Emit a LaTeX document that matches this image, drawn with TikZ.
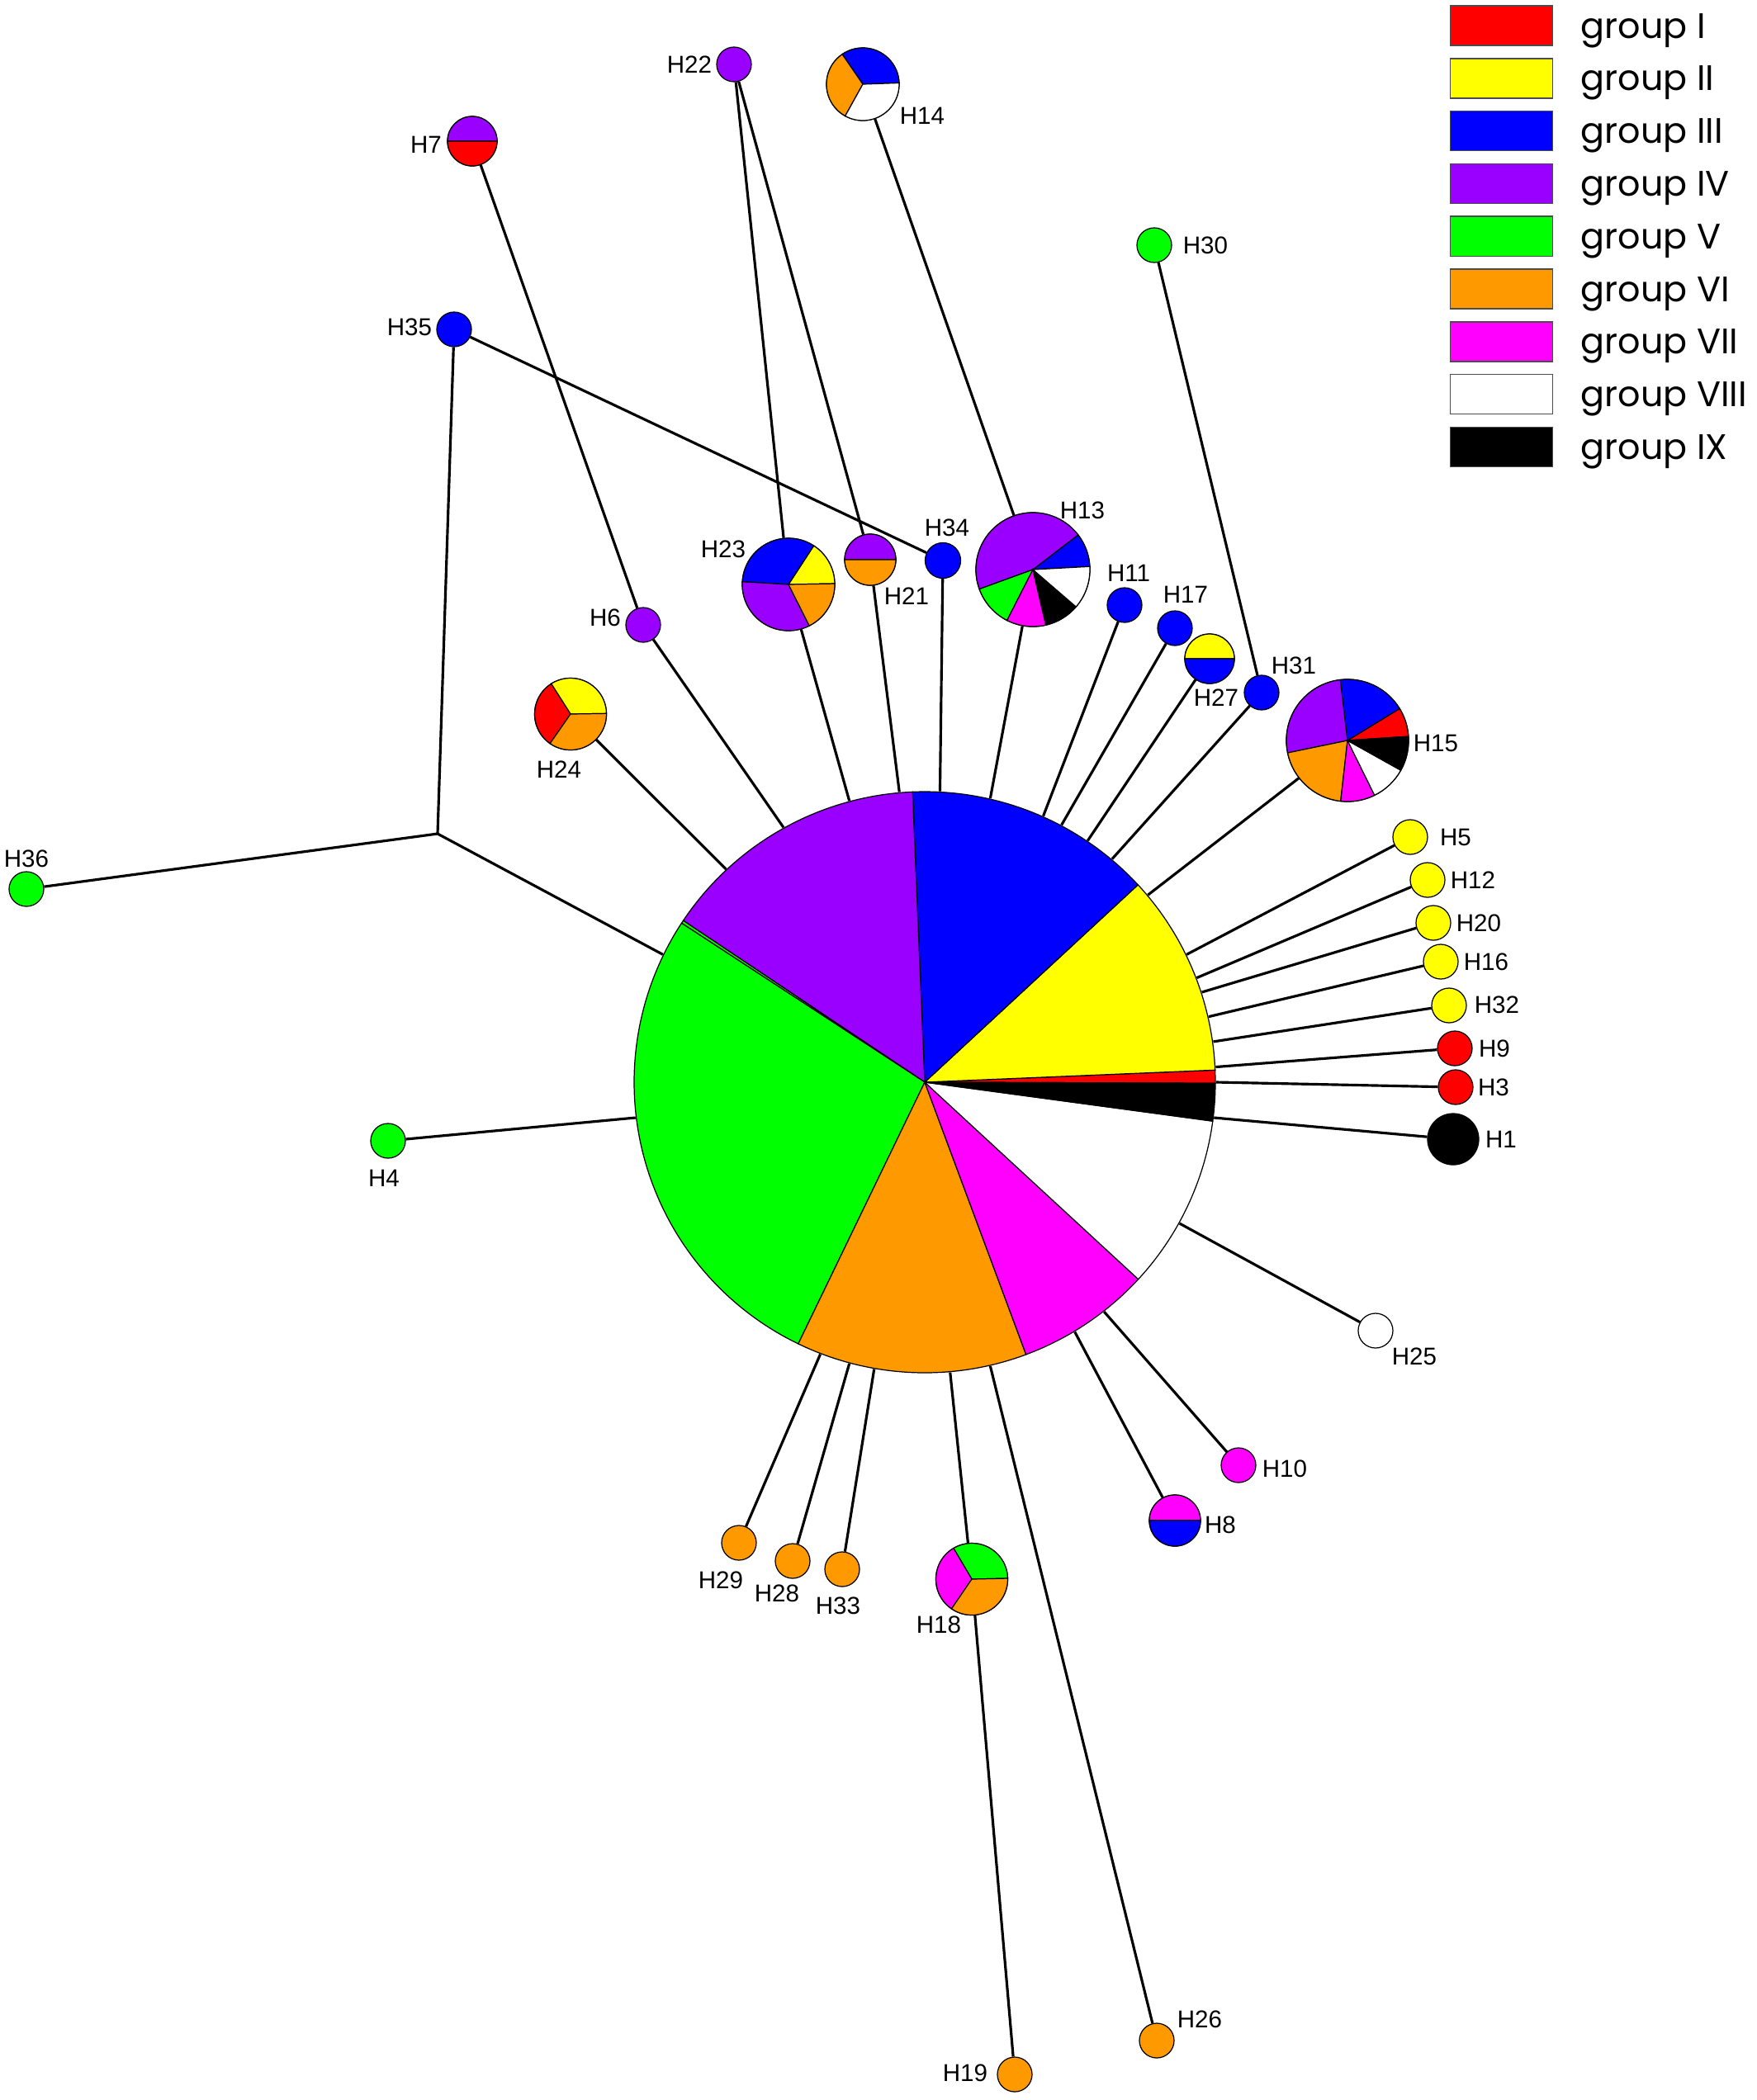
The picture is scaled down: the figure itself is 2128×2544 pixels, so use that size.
\documentclass[tikz,border=0pt]{standalone}
\usepackage{fontspec}
\setmainfont{Liberation Sans}
\newfontfamily\legfont{Poppins}
\definecolor{cI}{RGB}{255,0,0}
\definecolor{cII}{RGB}{255,255,0}
\definecolor{cIII}{RGB}{0,0,255}
\definecolor{cIV}{RGB}{153,0,255}
\definecolor{cV}{RGB}{0,255,0}
\definecolor{cVI}{RGB}{255,153,0}
\definecolor{cVII}{RGB}{255,0,255}
\definecolor{cVIII}{RGB}{255,255,255}
\definecolor{cIX}{RGB}{0,0,0}
\newcommand{\pslice}[5]{\filldraw[fill=#5,draw=black,line width=0.35pt] (#1.center) -- ++(#3:#2) arc[start angle=#3,end angle=#4,radius=#2] -- cycle;}
\tikzset{
  hap/.style={circle,inner sep=0pt,minimum size=#1,draw=black,line width=0.35pt},
  conn/.style={draw=black,line width=0.9pt},
  lab/.style={font=\fontsize{8.4pt}{10pt}\selectfont,inner sep=0pt},
  legbox/.style={draw=black!70,line width=0.4pt}
}
\begin{document}
\begin{tikzpicture}[x=0.01cm,y=0.01cm]
\useasboundingbox (0,0) rectangle (2128,-2544);
\fill[white] (0,0) rectangle (2128,-2544);

% main pie
\node[circle,inner sep=0pt,minimum size=7.04cm] (main) at (1120,-1311) {};

% haplotype nodes
\node[hap=0.60cm] (H7) at (572,-171) {};
\node[hap=0.42cm,fill=cIV] (H22) at (889,-78) {};
\node[hap=0.88cm] (H14) at (1045,-102) {};
\node[hap=0.42cm,fill=cV] (H30) at (1398,-297) {};
\node[hap=0.42cm,fill=cIII] (H35) at (550,-399) {};
\node[hap=0.42cm,fill=cV] (H36) at (32,-1077) {};
\node[hap=1.12cm] (H23) at (955,-708) {};
\node[hap=0.62cm] (H21) at (1054,-678) {};
\node[hap=0.43cm,fill=cIII] (H34) at (1142,-679) {};
\node[hap=1.38cm] (H13) at (1251,-690) {};
\node[hap=0.42cm,fill=cIII] (H11) at (1362,-733) {};
\node[hap=0.42cm,fill=cIII] (H17) at (1423,-761) {};
\node[hap=0.60cm] (H27) at (1465,-798) {};
\node[hap=0.42cm,fill=cIII] (H31) at (1528,-839) {};
\node[hap=1.48cm] (H15) at (1632,-897) {};
\node[hap=0.42cm,fill=cIV] (H6) at (779,-757) {};
\node[hap=0.87cm] (H24) at (691,-865) {};
\node[hap=0.42cm,fill=cII] (H5) at (1708,-1014) {};
\node[hap=0.42cm,fill=cII] (H12) at (1729,-1066) {};
\node[hap=0.42cm,fill=cII] (H20) at (1736,-1118) {};
\node[hap=0.42cm,fill=cII] (H16) at (1745,-1165) {};
\node[hap=0.42cm,fill=cII] (H32) at (1755,-1218) {};
\node[hap=0.42cm,fill=cI] (H9) at (1762,-1270) {};
\node[hap=0.42cm,fill=cI] (H3) at (1763,-1317) {};
\node[hap=0.62cm,fill=cIX] (H1) at (1760,-1380) {};
\node[hap=0.42cm,fill=cV] (H4) at (470,-1382) {};
\node[hap=0.42cm,fill=cVIII] (H25) at (1666,-1612) {};
\node[hap=0.42cm,fill=cVII] (H10) at (1500,-1775) {};
\node[hap=0.62cm] (H8) at (1423,-1842) {};
\node[hap=0.42cm,fill=cVI] (H29) at (895,-1869) {};
\node[hap=0.42cm,fill=cVI] (H28) at (960,-1891) {};
\node[hap=0.42cm,fill=cVI] (H33) at (1020,-1901) {};
\node[hap=0.87cm] (H18) at (1177,-1913) {};
\node[hap=0.42cm,fill=cVI] (H19) at (1229,-2513) {};
\node[hap=0.42cm,fill=cVI] (H26) at (1401,-2472) {};
\coordinate (J) at (530,-1010);

% connectors
\draw[conn] (H7) -- (H6);
\draw[conn] (H6) -- (main.119.3);
\draw[conn] (H22) -- (H23);
\draw[conn] (H22) -- (H21);
\draw[conn] (H23) -- (main.105.2);
\draw[conn] (H21) -- (main.95.8);
\draw[conn] (H34) -- (main.87.8);
\draw[conn] (H35) -- (H34);
\draw[conn] (J) -- (H35);
\draw[conn] (J) -- (H36);
\draw[conn] (J) -- (main.154);
\draw[conn] (H14) -- (H13);
\draw[conn] (H13) -- (main.77.5);
\draw[conn] (H11) -- (main.66.8);
\draw[conn] (H17) -- (main.62);
\draw[conn] (H27) -- (main.56.8);
\draw[conn] (H30) -- (H31);
\draw[conn] (H31) -- (main.50.8);
\draw[conn] (H15) -- (main.40.6);
\draw[conn] (H24) -- (main.133.2);
\draw[conn] (H5) -- (main.26.3);
\draw[conn] (H12) -- (main.21.8);
\draw[conn] (H20) -- (main.18);
\draw[conn] (H16) -- (main.13.4);
\draw[conn] (H32) -- (main.8.6);
\draw[conn] (H9) -- (main.3.3);
\draw[conn] (H3) -- (main.0.1);
\draw[conn] (H1) -- (main.353.8);
\draw[conn] (H4) -- (main.187);
\draw[conn] (H25) -- (main.331.2);
\draw[conn] (H10) -- (main.308.8);
\draw[conn] (H8) -- (main.301.3);
\draw[conn] (H29) -- (main.249.6);
\draw[conn] (H28) -- (main.255.2);
\draw[conn] (H33) -- (main.260.7);
\draw[conn] (H18) -- (main.275.7);
\draw[conn] (H18) -- (H19);
\draw[conn] (H26) -- (main.283.3);

% main pie slices
\pslice{main}{352}{-0.2}{2.4}{cI}
\pslice{main}{352}{2.4}{42.8}{cII}
\pslice{main}{352}{42.8}{92.4}{cIII}
\pslice{main}{352}{92.4}{146.2}{cIV}
\pslice{main}{352}{146.2}{146.8}{cV}
\pslice{main}{352}{146.8}{244.2}{cV}
\pslice{main}{352}{244.2}{290.4}{cVI}
\pslice{main}{352}{290.4}{317.3}{cVII}
\pslice{main}{352}{317.3}{352.3}{cVIII}
\pslice{main}{352}{352.3}{359.8}{cIX}

% small pies
\pslice{H7}{30}{0}{180}{cIV}
\pslice{H7}{30}{180}{360}{cI}
\pslice{H14}{44}{2}{124.5}{cIII}
\pslice{H14}{44}{124.5}{241}{cVI}
\pslice{H14}{44}{241}{362}{cVIII}
\pslice{H23}{56}{1}{56.9}{cII}
\pslice{H23}{56}{56.9}{176.6}{cIII}
\pslice{H23}{56}{176.6}{296.7}{cIV}
\pslice{H23}{56}{296.7}{361}{cVI}
\pslice{H21}{31}{0}{180}{cIV}
\pslice{H21}{31}{180}{360}{cVI}
\pslice{H13}{69}{3.1}{37.5}{cIII}
\pslice{H13}{69}{37.5}{200}{cIV}
\pslice{H13}{69}{200}{243}{cV}
\pslice{H13}{69}{243}{283.2}{cVII}
\pslice{H13}{69}{283.2}{319.2}{cIX}
\pslice{H13}{69}{319.2}{363.1}{cVIII}
\pslice{H27}{30}{0}{180}{cII}
\pslice{H27}{30}{180}{360}{cIII}
\pslice{H15}{74}{3.8}{31.4}{cI}
\pslice{H15}{74}{31.4}{96.8}{cIII}
\pslice{H15}{74}{96.8}{191.7}{cIV}
\pslice{H15}{74}{191.7}{263.6}{cVI}
\pslice{H15}{74}{263.6}{296.3}{cVII}
\pslice{H15}{74}{296.3}{330.8}{cVIII}
\pslice{H15}{74}{330.8}{363.8}{cIX}
\pslice{H24}{43.5}{0.9}{122.5}{cII}
\pslice{H24}{43.5}{122.5}{235.2}{cI}
\pslice{H24}{43.5}{235.2}{360.9}{cVI}
\pslice{H8}{31}{0}{180}{cVII}
\pslice{H8}{31}{180}{360}{cIII}
\pslice{H18}{43.5}{1.3}{120.6}{cV}
\pslice{H18}{43.5}{120.6}{235.7}{cVII}
\pslice{H18}{43.5}{235.7}{361.3}{cVI}

% labels
\node[lab] (L7) at (516,-175) {H7};
\node[lab] (L22) at (835,-78) {H22};
\node[lab] (L14) at (1117,-140) {H14};
\node[lab] (L30) at (1460,-297) {H30};
\node[lab] (L35) at (496,-396) {H35};
\node[lab] (L36) at (32,-1040) {H36};
\node[lab] (L23) at (876,-665) {H23};
\node[lab] (L21) at (1098,-722) {H21};
\node[lab] (L34) at (1147,-639) {H34};
\node[lab] (L13) at (1311,-618) {H13};
\node[lab] (L11) at (1367,-694) {H11};
\node[lab] (L17) at (1436,-720) {H17};
\node[lab] (L27) at (1473,-845) {H27};
\node[lab] (L31) at (1567,-806) {H31};
\node[lab] (L15) at (1739,-900) {H15};
\node[lab] (L6) at (733,-748) {H6};
\node[lab] (L24) at (677,-932) {H24};
\node[lab] (L5) at (1763,-1014) {H5};
\node[lab] (L12) at (1784,-1066) {H12};
\node[lab] (L20) at (1791,-1118) {H20};
\node[lab] (L16) at (1800,-1165) {H16};
\node[lab] (L32) at (1813,-1217) {H32};
\node[lab] (L9) at (1810,-1270) {H9};
\node[lab] (L3) at (1809,-1317) {H3};
\node[lab] (L1) at (1818,-1380) {H1};
\node[lab] (L4) at (465,-1427) {H4};
\node[lab] (L25) at (1713,-1643) {H25};
\node[lab] (L10) at (1556,-1779) {H10};
\node[lab] (L8) at (1478,-1847) {H8};
\node[lab] (L29) at (873,-1914) {H29};
\node[lab] (L28) at (941,-1930) {H28};
\node[lab] (L33) at (1015,-1945) {H33};
\node[lab] (L18) at (1137,-1968) {H18};
\node[lab] (L19) at (1169,-2511) {H19};
\node[lab] (L26) at (1453,-2446) {H26};

% legend
\foreach \c/\t [count=\i from 0] in {cI/I,cII/II,cIII/III,cIV/IV,cV/V,cVI/VI,cVII/VII,cVIII/VIII,cIX/IX}{
  \pgfmathsetmacro{\cy}{-31-63.8*\i}
  \node[legbox,fill=\c,minimum width=1.24cm,minimum height=0.48cm,inner sep=0pt,anchor=west] (B\i) at (1756,\cy) {};
  \node[anchor=base west,inner sep=0pt,font=\legfont\fontsize{12.2pt}{14pt}\selectfont] (T\i) at (1914,\cy-15) {group \t};
}
\end{tikzpicture}
\end{document}
